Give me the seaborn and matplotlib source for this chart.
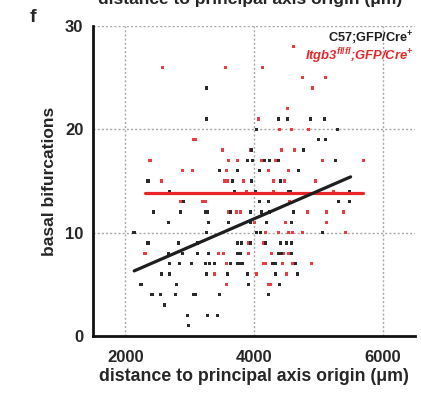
# Scatter of basal bifurcations vs distance to principal axis origin
import numpy as np
import pandas as pd
import seaborn as sns
import matplotlib.pyplot as plt
from matplotlib.ticker import MultipleLocator

# black group: C57;GFP/Cre+  (x in um, y = bifurcation count), one row per y level
black_x = [3258,
           3258, 4379, 4520, 4877, 5095,
           4036, 5297,
           5001, 5110,
           3958, 4768,
           3896, 3974, 4161, 4239, 4379, 5266,
           3461, 3741, 4083, 4690,
           2356, 3663, 3958, 4410,
           2683, 3694, 4021, 4534, 4565, 5483,
           2900, 4083, 4223, 5312, 5483,
           2434, 2854, 3243, 3274, 3632, 3943, 4114, 4239, 4612,
           2667, 3289, 3600, 3943, 4192, 4581,
           2138, 3258, 4036, 4099, 5063,
           2356, 2823, 3118, 3741, 3803, 3943, 4176, 4410, 4503, 4581,
           2667, 2885, 3118, 3289, 3741, 3787, 4379, 4425, 4581,
           2683, 2838, 3025, 3243, 3305, 3383, 3632, 3741, 3772, 3818, 4285, 4332, 4643,
           2558, 2683, 3258, 3585, 3896, 4332, 4674,
           2247, 2791, 3912, 4394,
           2418, 2543, 2776, 3056, 3087, 3461, 4223,
           2605,
           2963, 3274, 3429,
           2978]
black_y = [24,
           21, 21, 21, 21, 21,
           20, 20,
           19, 19,
           18, 18,
           17, 17, 17, 17, 17, 17,
           16, 16, 16, 16,
           15, 15, 15, 15,
           14, 14, 14, 14, 14, 14,
           13, 13, 13, 13, 13,
           12, 12, 12, 12, 12, 12, 12, 12, 12,
           11, 11, 11, 11, 11, 11,
           10, 10, 10, 10, 10,
           9, 9, 9, 9, 9, 9, 9, 9, 9, 9,
           8, 8, 8, 8, 8, 8, 8, 8, 8,
           7, 7, 7, 7, 7, 7, 7, 7, 7, 7, 7, 7, 7,
           6, 6, 6, 6, 6, 6, 6,
           5, 5, 5, 5,
           4, 4, 4, 4, 4, 4, 4,
           3,
           2, 2, 2,
           1]

# red group: Itgb3 fl/fl;GFP/Cre+
red_x = [4612,
         2574, 3554, 4130,
         4752, 5110,
         4908,
         4520,
         4067,
         4394, 4581, 4846,
         3060, 3090,
         3507, 3943, 4425, 4628,
         2387, 3600, 3741, 4114, 4332, 5063, 5701,
         2885, 3040, 3569, 4223, 4534,
         2558, 3538, 3585, 3834, 4301, 4472, 4954,
         3881, 4301, 5234,
         2854, 3196, 3243, 4550,
         3600, 3725, 3787, 4830, 5126, 5390,
         4005, 4488, 5126,
         4176, 4379, 4534, 4596, 4752, 5421,
         3912, 4145, 4503,
         2309, 3445, 3523, 3912, 4270, 4456, 4534,
         3569, 4145, 4176, 4441, 4596, 4892,
         3383, 4036, 4503,
         3569, 4223, 4254]
red_y = [28,
         26, 26, 26,
         25, 25,
         24,
         22,
         21,
         20, 20, 20,
         19, 19,
         18, 18, 18, 18,
         17, 17, 17, 17, 17, 17, 17,
         16, 16, 16, 16, 16,
         15, 15, 15, 15, 15, 15, 15,
         14, 14, 14,
         13, 13, 13, 13,
         12, 12, 12, 12, 12, 12,
         11, 11, 11,
         10, 10, 10, 10, 10, 10,
         9, 9, 9,
         8, 8, 8, 8, 8, 8, 8,
         7, 7, 7, 7, 7, 7,
         6, 6, 6,
         5, 5, 5]

# linear fits as drawn in the figure (end points)
black_fit_x = [2140, 5500]
black_fit_y = [6.3, 15.4]
red_fit_x = [2310, 5700]
red_fit_y = [13.85, 13.85]

black_label = "C57;GFP/Cre$^{+}$"
red_label = "Itgb3$^{fl/fl}$;GFP/Cre$^{+}$"

BLACK = "#1e1e1e"
RED = "#e8262a"

sns.set_style("white")
plt.rcParams["font.family"] = ["Liberation Sans", "DejaVu Sans"]
plt.rcParams["font.weight"] = "bold"
plt.rcParams["mathtext.fontset"] = "custom"
plt.rcParams["mathtext.rm"] = "Liberation Sans:bold"
plt.rcParams["mathtext.it"] = "Liberation Sans:bold:italic"
plt.rcParams["mathtext.bf"] = "Liberation Sans:bold"

df = pd.concat([
    pd.DataFrame({"x": red_x, "y": red_y, "group": "red"}),
    pd.DataFrame({"x": black_x, "y": black_y, "group": "black"}),
], ignore_index=True)

fig = plt.figure(figsize=(4.21, 3.97), dpi=100)
ax = fig.add_axes([93 / 421, 61 / 397, 322 / 421, 310 / 397])

# dotted grid
for gx in [2000, 4000, 6000]:
    ax.axvline(gx, color="#a8a8a8", lw=1.0, ls=(0, (1.5, 1.5)), zorder=0)
for gy in [10, 20, 30]:
    ax.axhline(gy, color="#a8a8a8", lw=1.0, ls=(0, (1.5, 1.5)), zorder=0)

sns.scatterplot(data=df, x="x", y="y", hue="group",
                palette={"black": "#2a2a2a", "red": "#eb3b40"},
                marker="s", s=5.5, linewidth=0, legend=False, ax=ax, zorder=2)

sns.lineplot(x=red_fit_x, y=red_fit_y, color=RED, lw=2.3, ax=ax, zorder=3)
sns.lineplot(x=black_fit_x, y=black_fit_y, color=BLACK, lw=2.3, ax=ax, zorder=4)

ax.set_xlim(1500, 6500)
ax.set_ylim(0, 30)
ax.xaxis.set_major_locator(MultipleLocator(2000))
ax.xaxis.set_minor_locator(MultipleLocator(500))
ax.yaxis.set_major_locator(MultipleLocator(10))

for side in ["top", "right"]:
    ax.spines[side].set_visible(False)
for side in ["left", "bottom"]:
    ax.spines[side].set_linewidth(2.0)
    ax.spines[side].set_color("#111111")

ax.tick_params(axis="both", which="major", direction="out", length=5, width=1.6,
               labelsize=12, pad=2, color="#111111")
ax.tick_params(axis="x", which="minor", direction="out", length=4, width=1.4,
               color="#111111")
ax.tick_params(axis="x", which="major", pad=5)
ax.set_xticks([2000, 4000, 6000])
ax.set_yticks([0, 10, 20, 30])

ax.set_xlabel("distance to principal axis origin (\u03bcm)", fontsize=12.8,
              fontweight="bold", labelpad=2)
ax.set_ylabel("basal bifurcations", fontsize=12.5, fontweight="bold", labelpad=6)

ax.text(0.995, 0.960, black_label, transform=ax.transAxes, ha="right", va="center",
        fontsize=9.2, fontweight="bold", color=BLACK)
ax.text(0.995, 0.903, red_label, transform=ax.transAxes, ha="right", va="center",
        fontsize=9.4, fontweight="bold", fontstyle="italic", color=RED)

# panel letter and cut-off label of the panel above
fig.text(30 / 421, 1 - 17 / 397, "f", fontsize=14, fontweight="bold", va="center")
fig.text(98 / 421, 1 - 4 / 397, "distance to principal axis origin (\u03bcm)",
         fontsize=12.5, fontweight="bold", va="baseline", ha="left")

fig.savefig("out.png", dpi=100)
